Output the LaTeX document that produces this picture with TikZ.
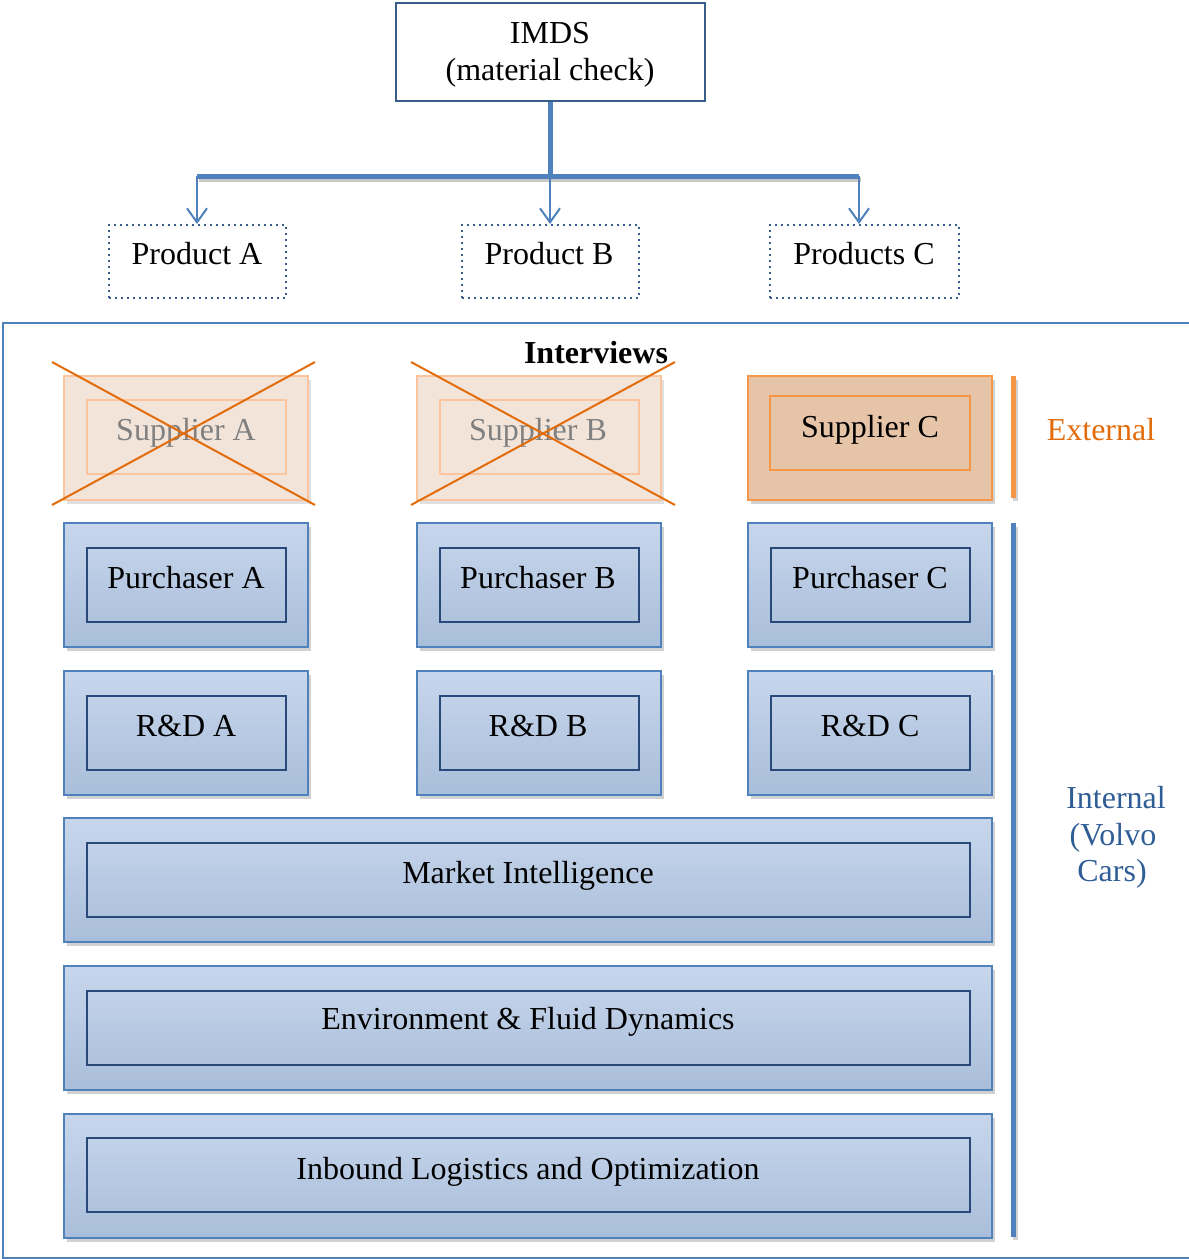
\documentclass[tikz,border=0pt]{standalone}
\usepackage{fontspec}
\setmainfont{Liberation Serif}
\usetikzlibrary{arrows.meta,shadows}
\definecolor{bline}{HTML}{4F81BD}
\definecolor{dkblue}{HTML}{385D8A}
\definecolor{inblue}{HTML}{29497A}
\definecolor{ftop}{HTML}{C7D6EC}
\definecolor{fbot}{HTML}{A9BEDA}
\definecolor{orng}{HTML}{F79646}
\definecolor{tan}{HTML}{E6C4A7}
\definecolor{fadefill}{HTML}{F2E4D9}
\definecolor{fadeline}{HTML}{FBC49C}
\definecolor{crossc}{HTML}{E36C0A}
\definecolor{inttext}{HTML}{2F5D96}
\tikzset{
  base font/.style={font=\fontsize{16}{19}\selectfont},
  outerbox/.style={draw=bline, line width=1pt, top color=ftop, bottom color=fbot,
    drop shadow={shadow xshift=1.5pt, shadow yshift=-2pt, opacity=0.18, fill=black},
    minimum width=122pt, minimum height=62pt, inner sep=0pt},
  innerbox/.style={draw=inblue, line width=1pt, minimum width=99.5pt, minimum height=37pt, inner sep=0pt},
  wideouter/.style={outerbox, minimum width=464pt},
  wideinner/.style={innerbox, minimum width=441.5pt},
  fadeouter/.style={draw=fadeline, line width=1pt, fill=fadefill,
    drop shadow={shadow xshift=1.5pt, shadow yshift=-2pt, opacity=0.12, fill=black},
    minimum width=122pt, minimum height=62pt, inner sep=0pt},
  fadeinner/.style={draw=fadeline, line width=1pt, minimum width=99.5pt, minimum height=37pt, inner sep=0pt},
  supcouter/.style={draw=orng, line width=1pt, fill=tan,
    drop shadow={shadow xshift=1.5pt, shadow yshift=-2pt, opacity=0.18, fill=black},
    minimum width=122pt, minimum height=62pt, inner sep=0pt},
  supcinner/.style={draw=orng, line width=1pt, minimum width=100pt, minimum height=37pt, inner sep=0pt},
  lbl/.style={base font, anchor=base, inner sep=0pt},
  prodbox/.style={draw=dkblue, dotted, line width=1pt, inner sep=0pt, minimum height=36.5pt},
  crossline/.style={draw=crossc, line width=1pt},
  arr/.style={draw=bline, line width=1pt, -{Straight Barb[length=7pt,width=10pt,line width=1pt]}},
}
\begin{document}
\begin{tikzpicture}[x=0.5pt,y=-0.5pt]
\useasboundingbox (0,0) rectangle (1189,1259);
\clip (0,0) rectangle (1189,1259);

% IMDS
\node[draw=dkblue, line width=1pt, fill=white, minimum width=154.5pt, minimum height=49pt, inner sep=0pt] (imds) at (550,52) {};
\node[lbl] (imdst1) at (550,43) {IMDS};
\node[lbl] (imdst2) at (550,80) {(material check)};

% bar
\coordinate (bl) at (197,176);
\coordinate (bm) at (550,176);
\coordinate (br) at (859,176);
\draw[black!22, line width=2.5pt] (199,179.5) -- (861,179.5);
\draw[bline, line width=2.5pt] (bl) -- (br);
\draw[bline, line width=2.5pt] (imds.south) -- (bm);

% products
\node[prodbox, minimum width=88.5pt] (pa) at (197.5,261.5) {};
\node[prodbox, minimum width=88.5pt] (pb) at (550.5,261.5) {};
\node[prodbox, minimum width=94.5pt] (pc) at (864.5,261.5) {};
\node[lbl] (pat) at (197,264) {Product A};
\node[lbl] (pbt) at (549,264) {Product B};
\node[lbl] (pct) at (864,264) {Products C};
\draw[arr] (bl) -- (bl |- pa.north);
\draw[arr] (bm) -- (bm |- pb.north);
\draw[arr] (br) -- (br |- pc.north);

% frame
\draw[bline, line width=1pt] (3,323) rectangle (1200,1258);
\node[lbl, font=\fontsize{16}{19}\selectfont\bfseries] (intv) at (596,363) {Interviews};

% suppliers
\node[fadeouter] (sao) at (186,438) {};
\node[fadeinner] (sai) at (186.5,437) {};
\node[lbl, text=black!50] (sat) at (186,440) {Supplier A};
\draw[crossline] (52,362) -- (315,505);
\draw[crossline] (52,505) -- (315,362);

\node[fadeouter] (sbo) at (539,438) {};
\node[fadeinner] (sbi) at (539.5,437) {};
\node[lbl, text=black!50] (sbt) at (538,440) {Supplier B};
\draw[crossline] (411,362) -- (675,505);
\draw[crossline] (411,505) -- (675,362);

\node[supcouter] (sco) at (870,437.5) {};
\node[supcinner] (sci) at (870,433) {};
\node[lbl] (sct) at (870,437) {Supplier C};

% side bars
\coordinate (et) at (1013,376);
\coordinate (eb) at (1013,498);
\draw[black!18, line width=2.5pt] (1015,380) -- (1015,501);
\draw[orng, line width=2.5pt] (et) -- (eb);
\node[lbl, text=crossc] (ext) at (1101,440) {External};

\coordinate (it) at (1013,523);
\coordinate (ib) at (1013,1237);
\draw[black!18, line width=2.5pt] (1015,527) -- (1015,1240);
\draw[bline, line width=2.5pt] (it) -- (ib);
\node[lbl, text=inttext] (int1) at (1116,808) {Internal};
\node[lbl, text=inttext] (int2) at (1113,845) {(Volvo};
\node[lbl, text=inttext] (int3) at (1112,881) {Cars)};

% purchasers
\node[outerbox] (pao) at (186,585) {};
\node[innerbox] (pai) at (186.5,585) {};
\node[lbl] (pat2) at (186,588) {Purchaser A};
\node[outerbox] (pbo) at (539,585) {};
\node[innerbox] (pbi) at (539.5,585) {};
\node[lbl] (pbt2) at (538,588) {Purchaser B};
\node[outerbox] (pco) at (870,585) {};
\node[innerbox] (pci) at (870,585) {};
\node[lbl] (pct2) at (870,588) {Purchaser C};

% R&D
\node[outerbox] (rao) at (186,733) {};
\node[innerbox] (rai) at (186.5,733) {};
\node[lbl] (rat) at (186,736) {R\&D A};
\node[outerbox] (rbo) at (539,733) {};
\node[innerbox] (rbi) at (539.5,733) {};
\node[lbl] (rbt) at (538,736) {R\&D B};
\node[outerbox] (rco) at (870,733) {};
\node[innerbox] (rci) at (870,733) {};
\node[lbl] (rct) at (870,736) {R\&D C};

% wide
\node[wideouter] (mio) at (528,880) {};
\node[wideinner] (mii) at (528.5,880) {};
\node[lbl] (mit) at (528,883) {Market Intelligence};
\node[wideouter] (efo) at (528,1027.5) {};
\node[wideinner] (efi) at (528.5,1028) {};
\node[lbl] (eft) at (528,1029) {Environment \& Fluid Dynamics};
\node[wideouter] (ilo) at (528,1175.5) {};
\node[wideinner] (ili) at (528.5,1175) {};
\node[lbl] (ilt) at (528,1179) {Inbound Logistics and Optimization};
\end{tikzpicture}
\end{document}
